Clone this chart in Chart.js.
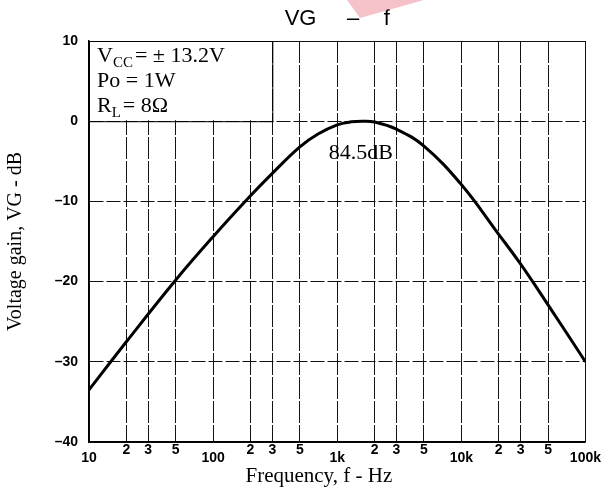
<!DOCTYPE html>
<html>
<head>
<meta charset="utf-8">
<script src="https://cdn.jsdelivr.net/npm/chart.js@4.4.1/dist/chart.umd.min.js"></script>
<style>
    body { margin: 0; background: #fff; }
</style>
</head>
<body>
<canvas id="MiGrafica" width="601" height="490"></canvas>
<script>
let frecuencias = [10, 20, 50, 100, 200, 300, 500, 700, 1000, 1300, 1600, 2000, 3000, 5000, 10000, 20000, 30000, 50000, 100000];
let ganancias = [-33.5, -27.5, -19.8, -14.4, -9.3, -6.5, -3.2, -1.6, -0.45, -0.08, 0, -0.1, -1.0, -3.1, -7.9, -14.1, -17.8, -22.9, -30];
let ticksX = [10, 20, 30, 50, 100, 200, 300, 500, 1000, 2000, 3000, 5000, 10000, 20000, 30000, 50000, 100000];
let etiquetasX = ["10", "2", "3", "5", "100", "2", "3", "5", "1k", "2", "3", "5", "10k", "2", "3", "5", "100k"];
let decadas = [10, 100, 1000, 10000, 100000];
let condiciones = [
    [["V", 0], ["CC", 1], ["= \u00b1 13.2V", 0]],
    [["Po = 1W", 0]],
    [["R", 0], ["L", 1], ["= 8\u03a9", 0]]
];
let textoPico = "84.5dB";

let puntos = frecuencias.map((f, i) => ({ x: f, y: ganancias[i] }));

function escribir(ctx, partes, x, y) {
    for (let [texto, sub] of partes) {
        ctx.font = sub ? '15px "Liberation Serif"' : '22px "Liberation Serif"';
        ctx.fillText(texto, x, sub ? y + 5 : y);
        x += ctx.measureText(texto).width + (sub ? 2 : 0);
    }
}

const cuadroTexto = {
    id: 'cuadroTexto',
    beforeDatasetsDraw(chart) {
        const { ctx, chartArea, scales } = chart;
        const xFin = scales.x.getPixelForValue(300);
        const yFin = scales.y.getPixelForValue(0);
        ctx.save();
        ctx.fillStyle = '#fff';
        ctx.fillRect(chartArea.left + 1, chartArea.top + 1, xFin - chartArea.left - 2, yFin - chartArea.top - 2);
        ctx.strokeStyle = '#000';
        ctx.lineWidth = 1;
        ctx.strokeRect(chartArea.left + 0.5, chartArea.top + 0.5, xFin - chartArea.left, yFin - chartArea.top);
        ctx.fillStyle = '#000';
        ctx.textBaseline = 'alphabetic';
        condiciones.forEach((linea, i) => escribir(ctx, linea, chartArea.left + 8, chartArea.top + 21 + i * 25));
        ctx.restore();
    },
    afterDraw(chart) {
        const { ctx, scales } = chart;
        ctx.save();
        ctx.fillStyle = '#000';
        ctx.font = '22px "Liberation Serif"';
        ctx.textAlign = 'center';
        ctx.fillText(textoPico, scales.x.getPixelForValue(1550), scales.y.getPixelForValue(-4.75));
        // marca rosa del escaneo
        ctx.fillStyle = 'rgba(232, 120, 135, 0.45)';
        ctx.beginPath();
        ctx.moveTo(347, 0);
        ctx.lineTo(424, 0);
        ctx.lineTo(360, 18);
        ctx.closePath();
        ctx.fill();
        ctx.restore();
    }
};

let chartConfig = {
    type: "line",
    data: {
        datasets: [{
            data: puntos,
            borderColor: "#000",
            borderWidth: 3,
            pointRadius: 0,
            tension: 0.4,
            fill: false
        }]
    },
    options: {
        responsive: false,
        animation: false,
        devicePixelRatio: 1,
        layout: { padding: { left: 0, right: 0, top: 0, bottom: 0 } },
        plugins: {
            legend: { display: false },
            tooltip: { enabled: false },
            title: {
                display: true,
                fullSize: false,
                text: "VG     \u2013    f",
                color: "#000",
                font: { family: "Liberation Sans", size: 22, weight: "normal" },
                padding: { top: 6, bottom: 8.6 }
            }
        },
        scales: {
            x: {
                type: "logarithmic",
                min: 10,
                max: 100000,
                afterBuildTicks: (scale) => { scale.ticks = ticksX.map(v => ({ value: v })); },
                afterFit: (scale) => { scale.height = 48; },
                ticks: {
                    autoSkip: false,
                    maxRotation: 0,
                    padding: 0,
                    color: "#000",
                    callback: (value, index) => etiquetasX[index],
                    font: (c) => ({
                        family: "Liberation Sans",
                        weight: "bold",
                        size: 14,
                        lineHeight: c.tick && decadas.includes(c.tick.value) ? 2.3 : 1.2
                    })
                },
                grid: { color: "#111", lineWidth: 1, drawTicks: false },
                border: {
                    color: "#000",
                    width: 1.5,
                    dash: (c) => (c.tick && (c.tick.value === 100000 || c.tick.value === 10)) ? [] : [22, 2]
                },
                title: {
                    display: true,
                    text: "Frequency, f - Hz       ",
                    color: "#000",
                    font: { family: "Liberation Serif", size: 21 },
                    padding: { top: 0, bottom: 1 }
                }
            },
            y: {
                min: -40,
                max: 10,
                afterFit: (scale) => { scale.width = 89; },
                ticks: {
                    stepSize: 10,
                    padding: 11,
                    color: "#000",
                    font: { family: "Liberation Sans", weight: "bold", size: 14 },
                    callback: (value) => value < 0 ? "\u2013" + Math.abs(value) : String(value)
                },
                grid: { color: "#111", lineWidth: 1, drawTicks: false },
                border: {
                    color: "#000",
                    width: 1.5,
                    dash: (c) => (c.tick && (c.tick.value === 10 || c.tick.value === -40)) ? [] : [14, 3]
                },
                title: {
                    display: true,
                    text: "Voltage gain, VG - dB",
                    color: "#000",
                    font: { family: "Liberation Serif", size: 20 },
                    padding: { top: 4, bottom: 0 }
                }
            }
        }
    },
    plugins: [cuadroTexto]
};

let miCanvas = document.getElementById("MiGrafica").getContext("2d");
let chart = new Chart(miCanvas, chartConfig);
</script>
</body>
</html>
